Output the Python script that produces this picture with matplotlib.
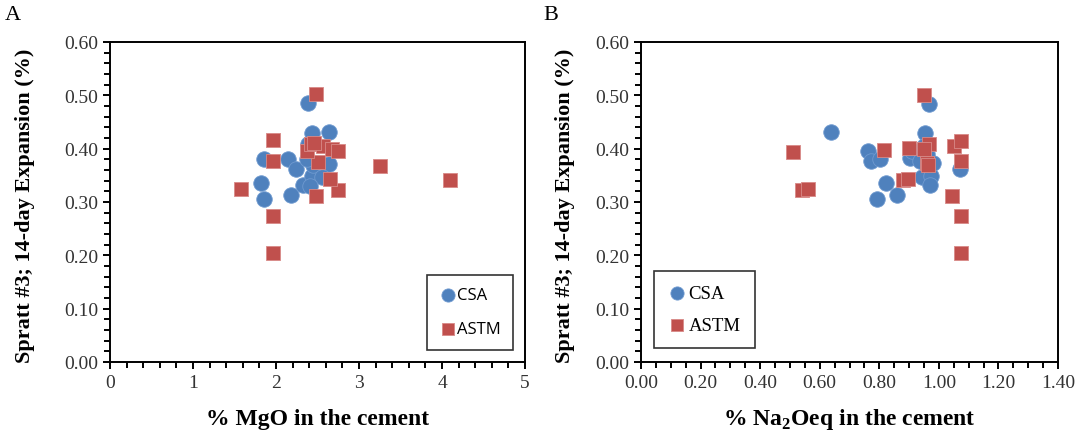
import numpy as np
import matplotlib.pyplot as plt
from matplotlib.ticker import MultipleLocator, FormatStrFormatter

plt.rc('font', family='Liberation Serif')
plt.rcParams['mathtext.fontset'] = 'custom'
plt.rcParams['mathtext.rm'] = 'Liberation Serif'
plt.rcParams['mathtext.bf'] = 'Liberation Serif:bold'

# panel A: % MgO
csa_mgo = [2.39, 2.43, 2.64, 1.85, 2.14, 2.24, 1.82, 1.86, 2.18, 2.33, 2.43,
           2.39, 2.64, 2.45, 2.55, 2.37, 2.41]
csa_mgo_exp = [0.485, 0.430, 0.432, 0.381, 0.381, 0.361, 0.336, 0.305, 0.313,
               0.331, 0.349, 0.408, 0.372, 0.370, 0.346, 0.380, 0.330]
astm_mgo = [2.48, 1.96, 1.96, 1.58, 1.96, 1.96, 2.48, 2.75, 2.65, 2.51, 2.37,
            2.42, 2.57, 2.67, 2.75, 3.25, 4.10, 2.46]
astm_mgo_exp = [0.502, 0.416, 0.376, 0.324, 0.274, 0.204, 0.311, 0.322, 0.344,
                0.375, 0.396, 0.408, 0.405, 0.399, 0.396, 0.368, 0.342, 0.410]

# panel B: % Na2Oeq
csa_na = [0.639, 0.763, 0.773, 0.804, 0.821, 0.791, 0.858, 0.904, 0.910, 0.955,
          0.968, 0.949, 0.943, 0.975, 0.971, 0.982, 1.071, 0.938, 0.960]
csa_na_exp = [0.431, 0.396, 0.377, 0.380, 0.336, 0.306, 0.313, 0.383, 0.396,
              0.430, 0.483, 0.405, 0.346, 0.349, 0.331, 0.374, 0.361, 0.377, 0.390]
astm_na = [0.951, 0.510, 0.540, 0.562, 0.817, 0.899, 0.880, 0.896, 0.966, 0.950,
           0.960, 0.965, 1.052, 1.074, 1.074, 1.043, 1.074, 1.074]
astm_na_exp = [0.501, 0.393, 0.322, 0.324, 0.397, 0.402, 0.341, 0.344, 0.408,
               0.400, 0.374, 0.370, 0.405, 0.415, 0.376, 0.311, 0.274, 0.205]

blue = '#4F81BD'
red = '#C0504D'
ylab = 'Spratt #3; 14-day Expansion (%)'

fig = plt.figure(figsize=(10.87, 4.39), dpi=100)
axA = fig.add_axes([110/1087, 76/439, 415/1087, 320/439])
axB = fig.add_axes([641/1087, 76/439, 417/1087, 320/439])

for ax, cx, cy, ax_, ay in [(axA, csa_mgo, csa_mgo_exp, astm_mgo, astm_mgo_exp),
                            (axB, csa_na, csa_na_exp, astm_na, astm_na_exp)]:
    ax.scatter(cx, cy, s=125, marker='o', color=blue, edgecolors='#6f9ad0',
               linewidths=0.6, label='CSA', zorder=3)
    ax.scatter(ax_, ay, s=110, marker='s', color=red, edgecolors='#d88a88',
               linewidths=0.6, label='ASTM', zorder=4)
    ax.set_ylim(0, 0.6)
    ax.yaxis.set_major_locator(MultipleLocator(0.1))
    ax.yaxis.set_minor_locator(MultipleLocator(0.02))
    ax.yaxis.set_major_formatter(FormatStrFormatter('%.2f'))
    ax.tick_params(which='both', direction='out', width=1.4, labelsize=14,
                   colors='black', labelcolor='#333333')
    ax.tick_params(which='major', length=5)
    ax.tick_params(which='minor', length=4)
    for s in ax.spines.values():
        s.set_linewidth(1.4)
    ax.set_ylabel(ylab, fontsize=16, fontweight='bold', va='center')

axA.yaxis.set_label_coords(-0.205, 0.49)
axB.yaxis.set_label_coords(-0.182, 0.49)

axA.set_xlim(0, 5)
axA.xaxis.set_major_locator(MultipleLocator(1))
axA.xaxis.set_minor_locator(MultipleLocator(0.2))
axA.set_xlabel('% MgO in the cement', fontsize=17, fontweight='bold', va='center')

axB.set_xlim(0, 1.4)
axB.xaxis.set_major_locator(MultipleLocator(0.2))
axB.xaxis.set_minor_locator(MultipleLocator(0.05))
axB.xaxis.set_major_formatter(FormatStrFormatter('%.2f'))
axB.set_xlabel('% Na$_\\mathbf{2}$Oeq in the cement', fontsize=17,
               fontweight='bold', va='center')

axA.xaxis.set_label_coords(0.5, -0.178)
axB.xaxis.set_label_coords(0.5, -0.178)

legA = axA.legend(loc='lower right', bbox_to_anchor=(0.971, 0.0375),
                  borderaxespad=0, prop={'family': 'Open Sans', 'size': 12},
                  frameon=True, fancybox=False, edgecolor='black',
                  handletextpad=0.05, labelspacing=1.1, borderpad=0.75,
                  handlelength=1.0, markerscale=0.85)
legA.get_frame().set_linewidth(1.2)
legB = axB.legend(loc='lower left', bbox_to_anchor=(0.031, 0.044),
                  borderaxespad=0, prop={'size': 13.5}, frameon=True,
                  fancybox=False, edgecolor='black', handletextpad=0.1,
                  labelspacing=0.8, borderpad=0.75, handlelength=1.0,
                  markerscale=0.85)
legB.get_frame().set_linewidth(1.2)

fig.text(5/1087, 1 - 16/439, 'A', fontsize=16, va='center', ha='left')
fig.text(543/1087, 1 - 16/439, 'B', fontsize=16, va='center', ha='left')

fig.savefig('out.png', dpi=100)
